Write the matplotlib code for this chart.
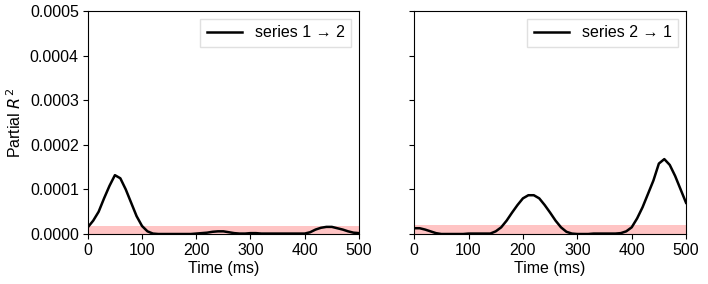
import numpy as np
import matplotlib
matplotlib.use("Agg")
import matplotlib.pyplot as plt

plt.rcParams['font.family'] = ['Liberation Sans', 'DejaVu Sans']

# time axis (ms)
time_ms = [0, 10, 20, 30, 40, 50, 60, 70, 80, 90, 100, 110, 120, 130, 140, 150,
           160, 170, 180, 190, 200, 210, 220, 230, 240, 250, 260, 270, 280, 290,
           300, 310, 320, 330, 340, 350, 360, 370, 380, 390, 400, 410, 420, 430,
           440, 450, 460, 470, 480, 490, 500]

# partial R^2, series 1 -> 2
r2_1to2 = [1.5e-5, 3.0e-5, 5.0e-5, 8.0e-5, 1.08e-4, 1.32e-4, 1.25e-4, 1.0e-4, 7.0e-5, 4.0e-5,
           1.8e-5, 6e-6, 1e-6, 0, 0, 0, 0, 0, 0, 0,
           1e-6, 2e-6, 3e-6, 5e-6, 6e-6, 6e-6, 4e-6, 2e-6, 1e-6, 1e-6,
           2e-6, 2e-6, 1e-6, 1e-6, 1e-6, 1e-6, 1e-6, 1e-6, 1e-6, 1e-6,
           1e-6, 4e-6, 1.0e-5, 1.4e-5, 1.6e-5, 1.6e-5, 1.3e-5, 1.0e-5, 6e-6, 3e-6, 2e-6]

# partial R^2, series 2 -> 1
r2_2to1 = [1.3e-5, 1.3e-5, 1.0e-5, 6e-6, 2e-6, 0, 0, 0, 0, 0,
           1e-6, 1e-6, 1e-6, 1e-6, 1e-6, 6e-6, 1.5e-5, 3.0e-5, 4.8e-5, 6.5e-5,
           8.0e-5, 8.7e-5, 8.7e-5, 8.0e-5, 6.5e-5, 4.8e-5, 3.0e-5, 1.5e-5, 5e-6, 1e-6,
           0, 0, 0, 1e-6, 1e-6, 1e-6, 1e-6, 1e-6, 2e-6, 6e-6,
           1.5e-5, 3.5e-5, 6.0e-5, 9.0e-5, 1.2e-4, 1.58e-4, 1.68e-4, 1.55e-4, 1.3e-4, 1.0e-4, 7.0e-5]

# significance threshold bands
thresholds = [1.85e-5, 2.0e-5]
labels = ["series 1 \u2192 2", "series 2 \u2192 1"]

fig = plt.figure(figsize=(7.08, 2.84), dpi=100)
ax1 = fig.add_axes([0.124, 0.176, 0.383, 0.785])
ax2 = fig.add_axes([0.585, 0.176, 0.384, 0.785], sharey=ax1)

for ax, y, thr, lab in zip([ax1, ax2], [r2_1to2, r2_2to1], thresholds, labels):
    ax.axhspan(0, thr, color='#ffc4c4', lw=0)
    ax.plot(time_ms, y, color='black', lw=1.8, label=lab)
    ax.set_xlim(0, 500)
    ax.set_ylim(0, 0.0005)
    ax.set_xticks([0, 100, 200, 300, 400, 500])
    ax.set_xlabel("Time (ms)", fontsize=11.5, labelpad=2)
    ax.tick_params(labelsize=11.5, length=3.5, pad=3)
    ax.legend(loc='upper right', fontsize=11.5, handlelength=2.2, fancybox=False,
              framealpha=1, edgecolor='#e0e0e0')
    for s in ax.spines.values():
        s.set_linewidth(0.8)

ax1.set_yticks([0, 0.0001, 0.0002, 0.0003, 0.0004, 0.0005])
ax1.yaxis.set_major_formatter(matplotlib.ticker.FormatStrFormatter('%.4f'))
ax1.set_ylabel("Partial $R^2$", fontsize=11.5)
ax2.tick_params(labelleft=False)

fig.savefig("out.png", dpi=100)
